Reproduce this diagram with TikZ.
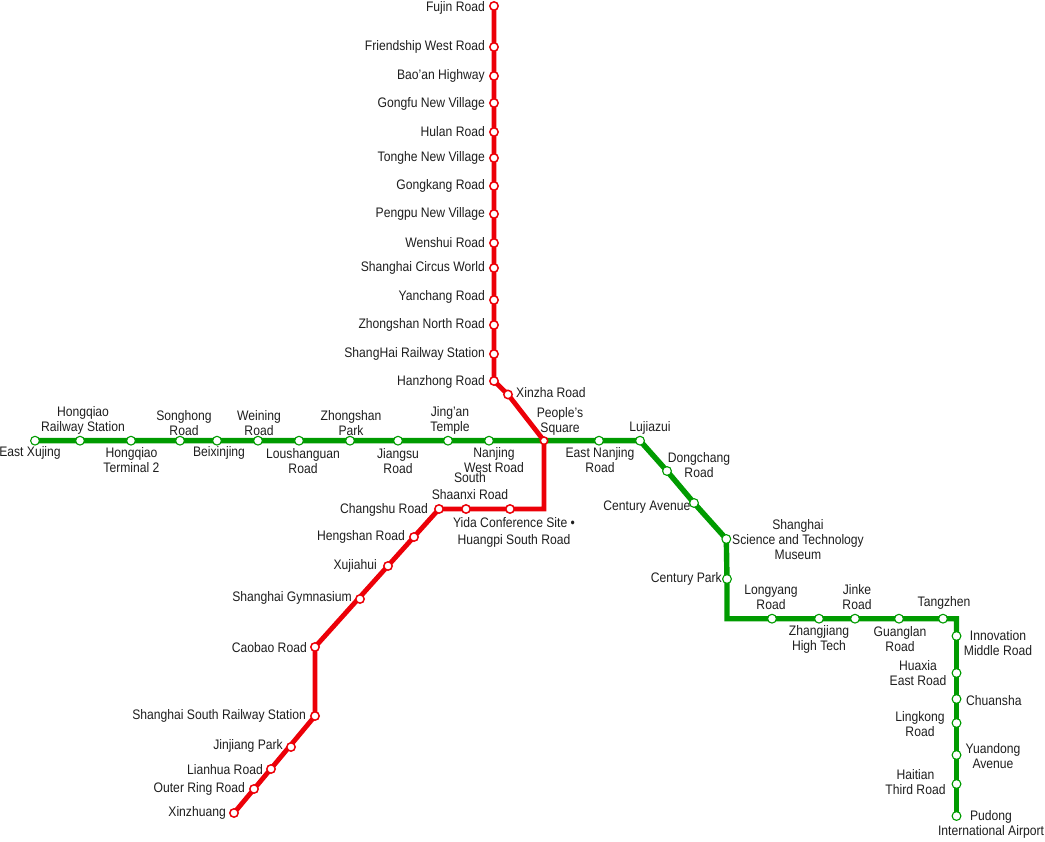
\documentclass[tikz,border=0pt]{standalone}
\usepackage{fontspec}
\setmainfont[FakeStretch=0.88]{Liberation Sans}
\usetikzlibrary{backgrounds}
\definecolor{redline}{RGB}{236,0,8}
\definecolor{greenline}{RGB}{0,155,0}
\definecolor{labtext}{RGB}{30,30,30}
\tikzset{
  rst/.style={circle,draw=redline,fill=white,line width=1.5pt,minimum size=8.4pt,inner sep=0pt},
  gst/.style={circle,draw=greenline,fill=white,line width=1.1pt,minimum size=8.8pt,inner sep=0pt},
  lab/.style={font=\fontsize{13.8}{15}\selectfont,text=labtext,align=center,inner sep=0pt},
  le/.style={lab,anchor=east},
  lc/.style={lab,anchor=center},
  lw/.style={lab,anchor=west},
  wide/.style={font=\fontsize{13.8}{17}\selectfont},
  redl/.style={draw=redline,line width=4.8pt,line join=miter},
  greenl/.style={draw=greenline,line width=5.4pt,line join=miter},
  greent/.style={draw=greenline,line width=4.2pt},
}
\begin{document}
\begin{tikzpicture}[x=1pt,y=-1pt]
\useasboundingbox (0,0) rectangle (1045,842);
% red stations
\node[rst] (r1) at (494,6) {};
\node[rst] (r2) at (494,47) {};
\node[rst] (r3) at (494,76) {};
\node[rst] (r4) at (494,103) {};
\node[rst] (r5) at (494,132) {};
\node[rst] (r6) at (494,158) {};
\node[rst] (r7) at (494,186) {};
\node[rst] (r8) at (494,214) {};
\node[rst] (r9) at (494,243) {};
\node[rst] (r10) at (494,268) {};
\node[rst] (r11) at (494,300) {};
\node[rst] (r12) at (494,325) {};
\node[rst] (r13) at (494,354) {};
\node[rst] (r14) at (494,381) {};
\node[rst] (r15) at (508,394.5) {};
\node[rst,minimum size=7.4pt] (ps) at (544,440.7) {};
\coordinate (rc) at (544,509);
\node[rst] (r17) at (510,509) {};
\node[rst] (r18) at (466,509) {};
\node[rst] (r19) at (439,509) {};
\node[rst] (r20) at (414,537) {};
\node[rst] (r21) at (388,566) {};
\node[rst] (r22) at (360,599) {};
\node[rst] (r23) at (315,647) {};
\node[rst] (r24) at (315,716) {};
\node[rst] (r25) at (291,747) {};
\node[rst] (r26) at (271,769) {};
\node[rst] (r27) at (254,789) {};
\node[rst] (r28) at (234,813) {};
% green stations
\node[gst] (g1) at (35,440.7) {};
\node[gst] (g2) at (80,440.7) {};
\node[gst] (g3) at (131,440.7) {};
\node[gst] (g4) at (180,440.7) {};
\node[gst] (g5) at (217,440.7) {};
\node[gst] (g6) at (258,440.7) {};
\node[gst] (g7) at (299,440.7) {};
\node[gst] (g8) at (350,440.7) {};
\node[gst] (g9) at (398,440.7) {};
\node[gst] (g10) at (448,440.7) {};
\node[gst] (g11) at (489,440.7) {};
\node[gst] (g13) at (599,440.7) {};
\node[gst] (g14) at (640,440.7) {};
\node[gst] (g15) at (667,471) {};
\node[gst] (g16) at (694,503) {};
\node[gst] (g17) at (726.3,539) {};
\node[gst] (g18) at (727,579) {};
\coordinate (gc1) at (727,618.7);
\node[gst] (g19) at (772,618.7) {};
\node[gst] (g20) at (819,618.7) {};
\node[gst] (g21) at (855,618.7) {};
\node[gst] (g22) at (899,618.7) {};
\node[gst] (g23) at (943,618.7) {};
\coordinate (gc2) at (956.5,618.7);
\node[gst] (g24) at (956.5,636) {};
\node[gst] (g25) at (956.5,673) {};
\node[gst] (g26) at (956.5,699) {};
\node[gst] (g27) at (956.5,723) {};
\node[gst] (g28) at (956.5,755) {};
\node[gst] (g29) at (956.5,784) {};
\node[gst] (g30) at (956.5,816) {};
\begin{scope}[on background layer]
\draw[greenl] (g1.center) -- (ps.center) -- (g14.center) -- (g15.center) -- (g16.center) -- (g17.center) -- (g18.center) -- (gc1) -- (gc2) -- (g24.center);
\draw[greent] (g24.center) -- (g30.center);
\draw[redl] (r1.center) -- (r14.center) -- (r15.center) -- (ps.center) -- (rc) -- (r19.center) -- (r23.center) -- (r24.center) -- (r28.center);
\end{scope}
% labels red north
\node[le] (lr1) at (485,7.5) {Fujin Road};
\node[le] (lr2) at (485,46.5) {Friendship West Road};
\node[le] (lr3) at (485,75.5) {Bao'an Highway};
\node[le] (lr4) at (485,103.5) {Gongfu New Village};
\node[le] (lr5) at (485,131.5) {Hulan Road};
\node[le] (lr6) at (485,157.5) {Tonghe New Village};
\node[le] (lr7) at (485,185.5) {Gongkang Road};
\node[le] (lr8) at (485,213.5) {Pengpu New Village};
\node[le] (lr9) at (485,242.5) {Wenshui Road};
\node[le] (lr10) at (485,267.5) {Shanghai Circus World};
\node[le] (lr11) at (485,296.5) {Yanchang Road};
\node[le] (lr12) at (485,324.5) {Zhongshan North Road};
\node[le] (lr13) at (485,353.5) {ShangHai Railway Station};
\node[le] (lr14) at (485,381.5) {Hanzhong Road};
\node[lw] (lr15) at (516,392.5) {Xinzha Road};
\node[lc] (lps) at (560,421) {People's\\Square};
\node[lc,wide] (lr17) at (514,532.5) {Yida Conference Site •\\Huangpi South Road};
\node[lc,wide] (lr18) at (470,486.5) {South\\Shaanxi Road};
\node[le] (lr19) at (428,509.5) {Changshu Road};
\node[le] (lr20) at (405,536.5) {Hengshan Road};
\node[le] (lr21) at (377,565.5) {Xujiahui};
\node[le] (lr22) at (352,597.5) {Shanghai Gymnasium};
\node[le] (lr23) at (307,647.5) {Caobao Road};
\node[le] (lr24) at (306,715.5) {Shanghai South Railway Station};
\node[le] (lr25) at (283,745.5) {Jinjiang Park};
\node[le] (lr26) at (263,769.5) {Lianhua Road};
\node[le] (lr27) at (245,788.5) {Outer Ring Road};
\node[le] (lr28) at (226,813) {Xinzhuang};
% labels green
\node[lc] (lg1) at (30,453) {East Xujing};
\node[lc] (lg2) at (83,420.5) {Hongqiao\\Railway Station};
\node[lc] (lg3) at (131.5,460.5) {Hongqiao\\Terminal 2};
\node[lc] (lg4) at (184,423.5) {Songhong\\Road};
\node[lc] (lg5) at (219,453) {Beixinjing};
\node[lc] (lg6) at (259,423.5) {Weining\\Road};
\node[lc] (lg7) at (303,461) {Loushanguan\\Road};
\node[lc] (lg8) at (351,423.5) {Zhongshan\\Park};
\node[lc] (lg9) at (398,461) {Jiangsu\\Road};
\node[lc] (lg10) at (450,420.5) {Jing'an\\Temple};
\node[lc] (lg11) at (494,460.5) {Nanjing\\West Road};
\node[lc] (lg13) at (600,460.5) {East Nanjing\\Road};
\node[lc] (lg14) at (650,428) {Lujiazui};
\node[lc] (lg15) at (699,465.5) {Dongchang\\Road};
\node[le] (lg16) at (690.5,507) {Century Avenue};
\node[lc] (lg17) at (798,539.5) {Shanghai\\Science and Technology\\Museum};
\node[le] (lg18) at (722,579) {Century Park};
\node[lc] (lg19) at (771,597.5) {Longyang\\Road};
\node[lc] (lg20) at (819,639.5) {Zhangjiang\\High Tech};
\node[lc] (lg21) at (857,597.5) {Jinke\\Road};
\node[lc] (lg22) at (900,639.5) {Guanglan\\Road};
\node[lc] (lg23) at (944,603) {Tangzhen};
\node[lc] (lg24) at (998,643) {Innovation\\Middle Road};
\node[lc] (lg25) at (918,673.5) {Huaxia\\East Road};
\node[lw] (lg26) at (966,700.5) {Chuansha};
\node[lc] (lg27) at (920,724.5) {Lingkong\\Road};
\node[lc] (lg28) at (993,756.5) {Yuandong\\Avenue};
\node[lc] (lg29) at (915.5,782.5) {Haitian\\Third Road};
\node[lc] (lg30) at (991,824.5) {Pudong\\International Airport};
\end{tikzpicture}
\end{document}
